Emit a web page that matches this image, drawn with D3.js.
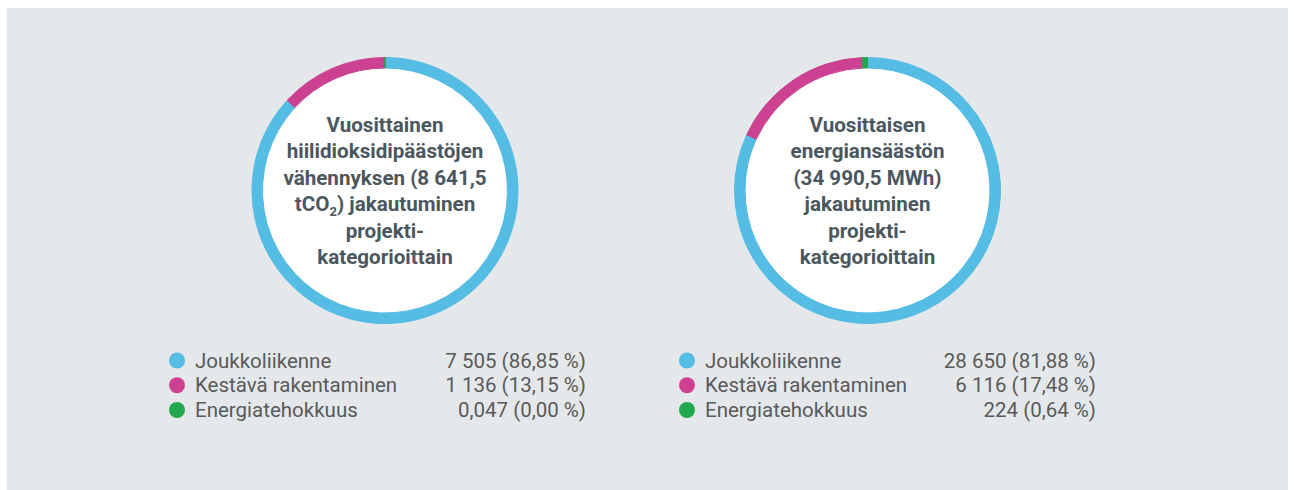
<!DOCTYPE html>
<html>
<head>
<meta charset="utf-8">
<script src="https://cdn.jsdelivr.net/npm/d3@7"></script>
<style>
  body { margin: 0; background: #ffffff; }
  svg { display: block; font-family: Roboto, "Noto Sans", sans-serif; }
</style>
</head>
<body>
<div id="chart"></div>
<script>
const categories = ["Joukkoliikenne", "Kestävä rakentaminen", "Energiatehokkuus"];
const co2Values = [7505, 1136, 0.047];
const co2Labels = ["7 505 (86,85 %)", "1 136 (13,15 %)", "0,047 (0,00 %)"];
const energyValues = [28650, 6116, 224];
const energyLabels = ["28 650 (81,88 %)", "6 116 (17,48 %)", "224 (0,64 %)"];
const co2Title = ["Vuosittainen", "hiilidioksidipäästöjen", "vähennyksen (8 641,5", "tCO|2|) jakautuminen", "projekti-", "kategorioittain"];
const energyTitle = ["Vuosittaisen", "energiansäästön", "(34 990,5 MWh)", "jakautuminen", "projekti-", "kategorioittain"];
const colors = ["#55bce3", "#cc4191", "#22a74f"];

const width = 1294;
const height = 490;

const svg = d3.select("#chart")
    .append("svg")
    .attr("width", width)
    .attr("height", height);

svg.append("rect")
    .attr("x", 7)
    .attr("y", 8)
    .attr("width", 1281)
    .attr("height", height - 8)
    .attr("fill", "#e4e8eb");

const color = d3.scaleOrdinal().domain(categories).range(colors);

const outerR = 133;
const innerR = 122.5;

const pie = d3.pie()
    .sort(null)
    .value(d => d.value);

const arc = d3.arc()
    .innerRadius(innerR)
    .outerRadius(outerR);

const drawDonut = (cx, cy, values, labels, title, legendX) => {
    const data = categories.map((c, i) => ({ name: c, value: values[i], label: labels[i] }));
    const g = svg.append("g").attr("transform", `translate(${cx},${cy})`);

    g.append("circle")
        .attr("r", innerR)
        .attr("fill", "#ffffff");

    g.selectAll("path")
        .data(pie(data))
        .join("path")
        .attr("d", arc)
        .attr("fill", d => color(d.data.name))
        .attr("stroke", d => color(d.data.name))
        .attr("stroke-width", 1);

    // title inside the ring
    const lineH = 26.5;
    const t = g.append("text")
        .attr("text-anchor", "middle")
        .attr("fill", "#4b575e")
        .attr("font-size", 20.6)
        .attr("font-weight", "bold");
    title.forEach((line, i) => {
        const y = (i - (title.length - 1) / 2) * lineH + 7.5;
        const parts = line.split("|");
        t.append("tspan").attr("x", 0).attr("y", y).text(parts[0]);
        if (parts.length > 1) {
            t.append("tspan").attr("font-size", 13).attr("dy", 5).text(parts[1]);
            t.append("tspan").attr("dy", -5).text(parts[2]);
        }
    });

    // legend
    const rowY = d3.scalePoint()
        .domain(categories)
        .range([360.5, 410]);

    const leg = svg.append("g");
    const rows = leg.selectAll("g")
        .data(data)
        .join("g")
        .attr("transform", d => `translate(${legendX},${rowY(d.name)})`);

    rows.append("circle")
        .attr("cx", 0)
        .attr("cy", 0)
        .attr("r", 8)
        .attr("fill", d => color(d.name));

    rows.append("text")
        .attr("x", 18)
        .attr("y", 7)
        .attr("fill", "#5a5a5a")
        .attr("font-size", 20.5)
        .text(d => d.name);

    rows.append("text")
        .attr("x", 409)
        .attr("y", 7)
        .attr("text-anchor", "end")
        .attr("fill", "#5a5a5a")
        .attr("font-size", 20.5)
        .text(d => d.label);
};

drawDonut(385, 190.5, co2Values, co2Labels, co2Title, 177);
drawDonut(867.5, 190.5, energyValues, energyLabels, energyTitle, 687);
</script>
</body>
</html>
